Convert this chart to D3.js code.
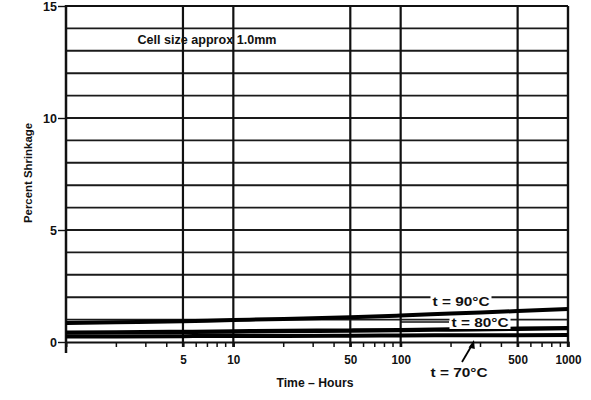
<!DOCTYPE html>
<html>
<head>
<meta charset="utf-8">
<script src="https://cdn.jsdelivr.net/npm/d3@7"></script>
<style>
  body { margin: 0; background: #fff; }
  text { font-family: "Liberation Sans", Arial, sans-serif; font-weight: bold; fill: #111; }
</style>
</head>
<body>
<svg id="chart" width="591" height="400"></svg>
<script>
// values
var hours = [1, 2, 5, 10, 20, 50, 100, 200, 500, 1000];
var t90 = [0.85, 0.88, 0.93, 0.98, 1.03, 1.10, 1.18, 1.27, 1.38, 1.47];
var t80 = [0.42, 0.43, 0.45, 0.47, 0.49, 0.51, 0.53, 0.56, 0.59, 0.62];
var t70 = [0.25, 0.25, 0.26, 0.27, 0.27, 0.28, 0.29, 0.30, 0.30, 0.31];
var xMajor = [5, 10, 50, 100, 500, 1000];
var xMinor = [2, 3, 4, 6, 7, 8, 9, 20, 30, 40, 60, 70, 80, 90, 200, 300, 400, 600, 700, 800, 900];
var yLabels = [0, 5, 10, 15];

var svg = d3.select('#chart');
var x = d3.scaleLog().domain([1, 1000]).range([66, 568]);
var y = d3.scaleLinear().domain([0, 15]).range([342, 6]);

// horizontal grid every 1%
svg.append('g')
  .selectAll('line')
  .data(d3.range(1, 16))
  .join('line')
  .attr('x1', x(1)).attr('x2', x(1000))
  .attr('y1', d => y(d)).attr('y2', d => y(d))
  .attr('stroke', '#1a1a1a').attr('stroke-width', 1.9);

// vertical grid at labelled hours
svg.append('g')
  .selectAll('line')
  .data(xMajor)
  .join('line')
  .attr('x1', d => x(d)).attr('x2', d => x(d))
  .attr('y1', y(15)).attr('y2', y(0) + 5)
  .attr('stroke', '#111').attr('stroke-width', 2.2);

// bottom axis with minor ticks
var xAxis = svg.append('g')
  .attr('transform', 'translate(0,' + y(0) + ')')
  .call(d3.axisBottom(x).tickValues(xMajor).tickSize(5).tickFormat(d3.format('d')));
xAxis.select('.domain').attr('stroke', '#111').attr('stroke-width', 2);
xAxis.selectAll('.tick line').attr('stroke', '#111').attr('stroke-width', 2.2);
xAxis.selectAll('text')
  .attr('font-size', 13).attr('dy', '1.1em')
  .attr('transform', 'scale(0.9,1)');

svg.append('g')
  .selectAll('line')
  .data(xMinor)
  .join('line')
  .attr('x1', d => x(d)).attr('x2', d => x(d))
  .attr('y1', y(0)).attr('y2', y(0) + 5)
  .attr('stroke', '#111').attr('stroke-width', 1.5);

// left axis
var yAxis = svg.append('g')
  .attr('transform', 'translate(' + x(1) + ',0)')
  .call(d3.axisLeft(y).tickValues(yLabels).tickSize(8));
yAxis.select('.domain').remove();
yAxis.selectAll('.tick line').attr('stroke', '#111').attr('stroke-width', 1.4);
yAxis.selectAll('text').attr('font-size', 12.5).attr('x', -9);

// frame
svg.append('line')
  .attr('x1', x(1)).attr('x2', x(1))
  .attr('y1', y(15) - 1).attr('y2', y(0) + 11)
  .attr('stroke', '#111').attr('stroke-width', 2.5);
svg.append('line')
  .attr('x1', x(1000)).attr('x2', x(1000))
  .attr('y1', y(15)).attr('y2', y(0) + 5)
  .attr('stroke', '#111').attr('stroke-width', 2.2);
svg.append('line')
  .attr('x1', x(1)).attr('x2', x(1000))
  .attr('y1', y(15)).attr('y2', y(15))
  .attr('stroke', '#111').attr('stroke-width', 2.2);

// shrinkage curves
var series = [
  { name: 't = 90°C', v: t90, w: 4 },
  { name: 't = 80°C', v: t80, w: 4.4 },
  { name: 't = 70°C', v: t70, w: 4 }
];
var line = d3.line()
  .x((d, i) => x(hours[i]))
  .y(d => y(d))
  .curve(d3.curveMonotoneX);
series.forEach(function(s) {
  svg.append('path')
    .datum(s.v)
    .attr('d', line)
    .attr('fill', 'none')
    .attr('stroke', '#000')
    .attr('stroke-width', s.w);
});

// curve labels on white patches
function label(txt, cx, cy, w) {
  var t = svg.append('text')
    .attr('x', cx).attr('y', cy)
    .attr('text-anchor', 'middle')
    .attr('dominant-baseline', 'central')
    .attr('font-size', 12.5)
    .attr('textLength', w).attr('lengthAdjust', 'spacingAndGlyphs')
    .text(txt);
  var b = t.node().getBBox();
  svg.insert('rect', function() { return t.node(); })
    .attr('x', b.x - 2).attr('y', b.y + 1)
    .attr('width', b.width + 4).attr('height', b.height - 2)
    .attr('fill', '#fff');
}
label('t = 90°C', 461, 302, 57);
label('t = 80°C', 480, 323, 57);
label('t = 70°C', 459, 373, 57);

// leader line beside the 80°C label
svg.append('line')
  .attr('x1', 400).attr('x2', 449).attr('y1', 322).attr('y2', 322)
  .attr('stroke', '#111').attr('stroke-width', 1.5);

// arrow for 70°C
svg.append('line')
  .attr('x1', 462).attr('y1', 362).attr('x2', 472).attr('y2', 345)
  .attr('stroke', '#000').attr('stroke-width', 1.8);
svg.append('path')
  .attr('d', 'M474,340 L468.5,347.5 L474.8,349 Z')
  .attr('fill', '#000');

// note and axis titles
svg.append('text')
  .attr('x', 207).attr('y', 40)
  .attr('text-anchor', 'middle')
  .attr('dominant-baseline', 'central')
  .attr('font-size', 12.5)
  .attr('textLength', 139).attr('lengthAdjust', 'spacingAndGlyphs')
  .text('Cell size approx 1.0mm');

svg.append('text')
  .attr('x', 315).attr('y', 383)
  .attr('text-anchor', 'middle')
  .attr('dominant-baseline', 'central')
  .attr('font-size', 12.5)
  .attr('textLength', 77).attr('lengthAdjust', 'spacingAndGlyphs')
  .text('Time – Hours');

svg.append('text')
  .attr('transform', 'translate(28,173) rotate(-90)')
  .attr('text-anchor', 'middle')
  .attr('dominant-baseline', 'central')
  .attr('font-size', 11)
  .attr('textLength', 100).attr('lengthAdjust', 'spacingAndGlyphs')
  .text('Percent Shrinkage');
</script>
</body>
</html>
